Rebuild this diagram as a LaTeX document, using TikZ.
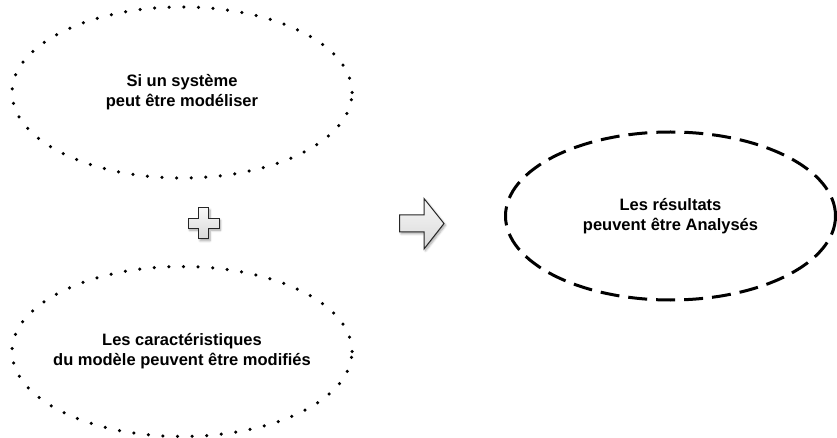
\documentclass[tikz,border=0pt]{standalone}
\usepackage{fontspec}
\setmainfont{Liberation Sans}
\usetikzlibrary{shapes.geometric,shadows.blur}
\tikzset{
  idea/.style={ellipse, draw=black, inner sep=0pt},
  label text/.style={align=center, inner sep=0pt,
    font=\fontsize{16.5}{20}\selectfont\bfseries},
  dotline/.style={line width=3.5pt, line cap=round, dash pattern=on 0pt off 14.6pt},
  dashline/.style={line width=3pt, dash pattern=on 19pt off 9pt},
  sym/.style={draw=black!85, line width=1pt, line join=miter,
    top color=white!97!black, bottom color=black!15,
    blur shadow={shadow xshift=1.5pt, shadow yshift=-1.8pt, shadow blur steps=6, shadow opacity=35}}
}
\begin{document}
\begin{tikzpicture}[x=1pt,y=-1pt]
\useasboundingbox (0,0) rectangle (837,438);
\node[idea, dotline, minimum width=340pt, minimum height=171pt] (e1) at (182,92.5) {};
\node[label text] (t1) at (e1.center) {Si un système\\peut être modéliser};
\node[idea, dotline, minimum width=340pt, minimum height=170pt] (e2) at (182,351.5) {};
\node[label text] (t2) at (e2.center) {Les caractéristiques\\du modèle peuvent être modifiés};
\node[idea, dashline, minimum width=330pt, minimum height=168pt] (e3) at (670.5,216) {};
\node[label text] (t3) at (e3.center) {Les résultats\\peuvent être Analysés};
% plus sign
\path[sym] (198.5,208) -- (208.5,208) -- (208.5,218.5) -- (219,218.5) -- (219,228.5)
  -- (208.5,228.5) -- (208.5,239) -- (198.5,239) -- (198.5,228.5) -- (188,228.5)
  -- (188,218.5) -- (198.5,218.5) -- cycle;
% arrow
\path[sym] (399.5,215) -- (424,215) -- (424,198.5) -- (444,223.5) -- (424,249)
  -- (424,232) -- (399.5,232) -- cycle;
\end{tikzpicture}
\end{document}
